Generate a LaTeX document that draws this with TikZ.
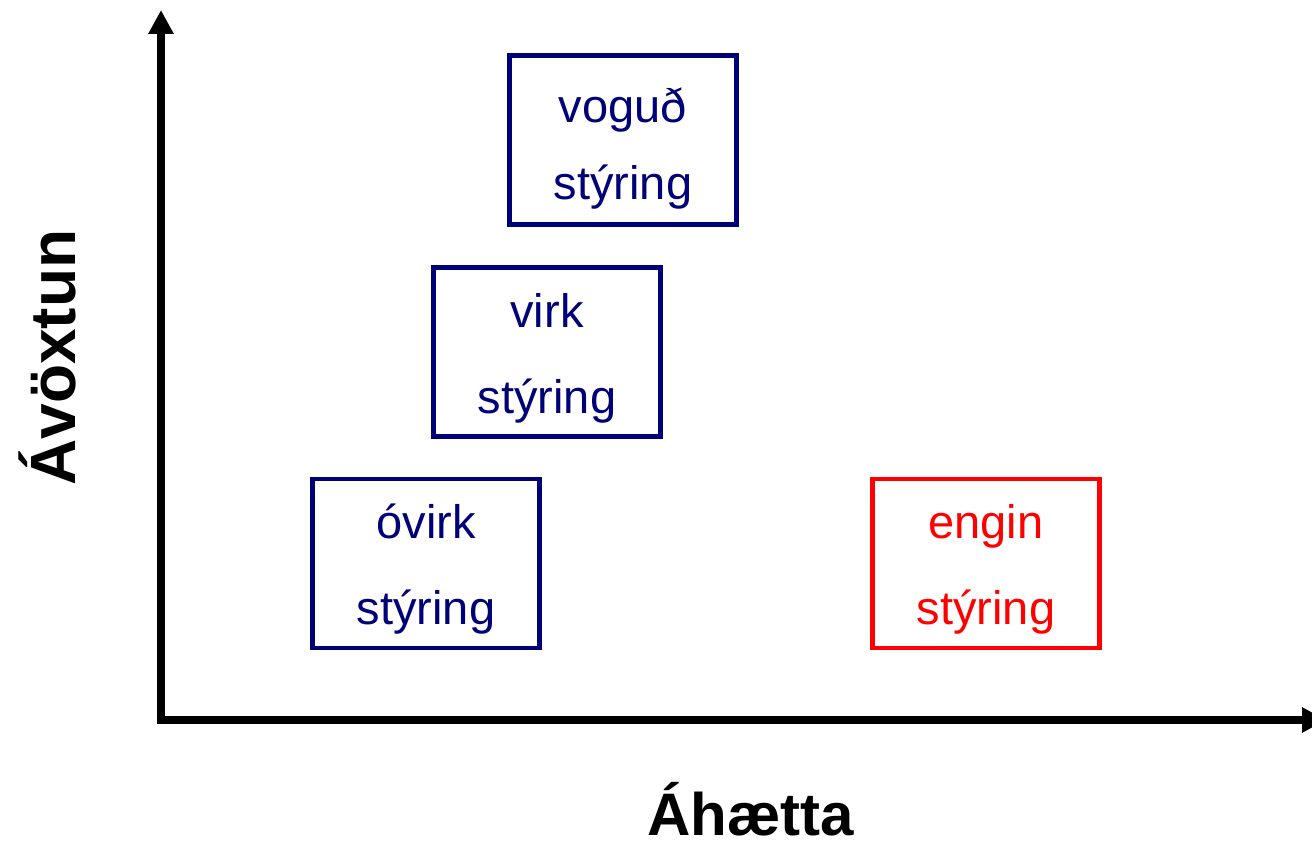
\documentclass[tikz,border=0pt]{standalone}
\usepackage{fontspec}
\setmainfont{Liberation Sans}
\usetikzlibrary{arrows.meta}
\definecolor{boxblue}{RGB}{0,0,120}
\definecolor{boxred}{RGB}{255,0,0}
\tikzset{
  box/.style={draw, line width=4.5pt, minimum width=227pt, minimum height=169pt, inner sep=0pt},
  bluebox/.style={box, draw=boxblue},
  redbox/.style={box, draw=boxred},
  txt/.style={inner sep=0pt, anchor=base, font=\fontsize{47}{56}\selectfont},
  bluetxt/.style={txt, text=boxblue},
  redtxt/.style={txt, text=boxred},
  axislabel/.style={inner sep=0pt, anchor=base, font=\fontsize{60}{72}\selectfont\bfseries},
  axisline/.style={line width=8pt, line join=miter, {Triangle[length=24pt,width=24pt]}-{Triangle[length=24pt,width=24pt]}}
}
\begin{document}
\begin{tikzpicture}[x=1pt,y=-1pt]
\useasboundingbox[fill=white] (0,0) rectangle (1312,845);
\coordinate (o) at (161,720);
\coordinate (ytop) at (161,10);
\coordinate (xend) at (1326,720);
\draw[axisline] (ytop) -- (o) -- (xend);

\node[bluebox] (vog) at (623,140) {};
\node[bluetxt] (vog1) at (623,123) {voguð};
\node[bluetxt] (vog2) at (623,200) {stýring};

\node[bluebox] (virk) at (547,352) {};
\node[bluetxt] (virk1) at (547,327) {virk};
\node[bluetxt] (virk2) at (547,413) {stýring};

\node[bluebox] (ovirk) at (426,563.5) {};
\node[bluetxt] (ovirk1) at (426,538) {óvirk};
\node[bluetxt] (ovirk2) at (426,624) {stýring};

\node[redbox] (engin) at (986,563.5) {};
\node[redtxt] (engin1) at (986,538) {engin};
\node[redtxt] (engin2) at (986,624) {stýring};

\node[axislabel] (xlab) at (751,835) {Áhætta};
\node[axislabel, rotate=90, font=\fontsize{64}{76}\selectfont\bfseries] (ylab) at (75,357.5) {Ávöxtun};
\end{tikzpicture}
\end{document}
